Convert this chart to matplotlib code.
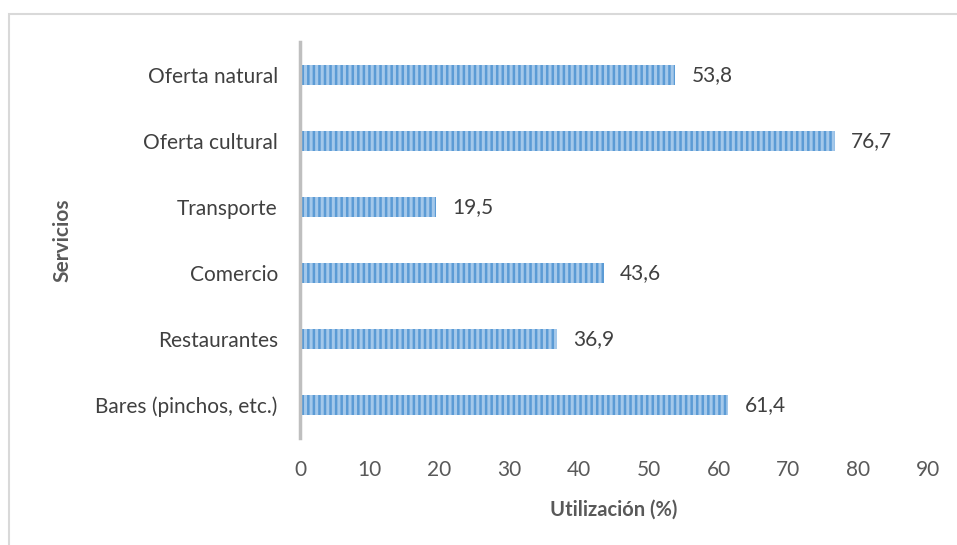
import matplotlib.pyplot as plt
from matplotlib.patches import Rectangle

plt.rcParams['font.family'] = ['Lato', 'DejaVu Sans']
plt.rcParams['hatch.linewidth'] = 1.8

servicios = ['Bares (pinchos, etc.)', 'Restaurantes', 'Comercio', 'Transporte',
             'Oferta cultural', 'Oferta natural']
utilizacion = [61.4, 36.9, 43.6, 19.5, 76.7, 53.8]
etiquetas = ['61,4', '36,9', '43,6', '19,5', '76,7', '53,8']
xticks = [0, 10, 20, 30, 40, 50, 60, 70, 80, 90]

fig = plt.figure(figsize=(9.57, 5.45), dpi=100)

# chart area border (light gray, runs off the right/bottom edge)
fig.patches.append(Rectangle((9 / 957, -0.05), 1.1, 1 - 14 / 545 + 0.05,
                             transform=fig.transFigure, fill=False,
                             edgecolor='#d9d9d9', linewidth=1.5))

ax = fig.add_axes([300 / 957, 1 - 438 / 545, 628 / 957, 396 / 545])

y = range(len(servicios))
bars = ax.barh(y, utilizacion, height=0.3, color='#a4c8ea',
               edgecolor='#5b9bd5', hatch='|||', linewidth=0)

for yi, v, lab in zip(y, utilizacion, etiquetas):
    ax.text(v + 2.3, yi, lab, va='center', ha='left', fontsize=15, color='#404040')

ax.set_xlim(0, 90)
ax.set_ylim(-0.5, len(servicios) - 0.5)
ax.set_xticks(xticks)
ax.set_xticklabels([str(t) for t in xticks], fontsize=15, color='#595959')
ax.set_yticks(list(y))
ax.set_yticklabels(servicios, fontsize=15, color='#404040')
ax.tick_params(axis='both', length=0)
ax.tick_params(axis='x', pad=16)
ax.tick_params(axis='y', pad=16)

for s in ['top', 'right', 'bottom']:
    ax.spines[s].set_visible(False)
ax.spines['left'].set_color('#bfbfbf')
ax.spines['left'].set_linewidth(2.5)

ax.set_xlabel('Utilización (%)', fontsize=14.5, fontweight='bold', color='#595959', labelpad=14)
fig.text(62 / 957, 1 - 240 / 545, 'Servicios', rotation=90, ha='center', va='center',
         fontsize=15, fontweight='bold', color='#595959')

fig.savefig('out.png', dpi=100)
